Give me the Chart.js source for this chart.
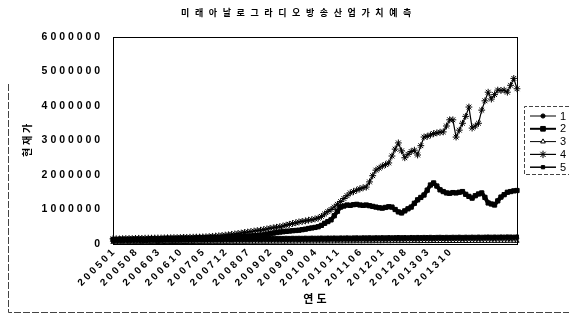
<!DOCTYPE html>
<html>
<head>
<meta charset="utf-8">
<script src="https://cdn.jsdelivr.net/npm/chart.js@4/dist/chart.umd.min.js"></script>
<style>
  html, body { margin: 0; padding: 0; background: #fff; }
</style>
</head>
<body>
<canvas id="chart" width="569" height="316"></canvas>
<script>
const chartTitle = '미래아날로그라디오방송산업가치예측';
const yTitle = '현 재 가';
const xTitle = '연 도';
const seriesNames = ['1', '2', '3', '4', '5'];

// months 200501 .. 201507, a label is shown every 7 months up to 201310
const firstYear = 2005;
const monthCount = 127;
const labelStep = 7;
const lastLabelIndex = 105;
const yMax = 6000000;
const yStep = 1000000;

const months = [];
for (let i = 0; i < monthCount; i++) {
  const y = firstYear + Math.floor(i / 12);
  const m = (i % 12) + 1;
  months.push(String(y) + (m < 10 ? '0' : '') + m);
}

const s1 = [
  80000, 82000, 79000, 83000, 85000, 84000, 86000, 88000, 87000, 89000, 90000, 88000,
  91000, 92000, 90000, 93000, 94000, 95000, 93000, 96000, 97000, 95000, 98000, 99000, 100000, 98000, 101000,
  102000, 100000, 103000, 104000, 102000, 105000, 106000, 104000, 107000, 108000,
  106000, 109000, 110000, 108000, 111000, 112000, 110000, 113000, 114000,
  112000, 115000, 116000, 114000, 117000, 118000,
  116000, 119000, 120000, 118000, 121000, 122000,
  120000, 123000, 124000, 122000, 125000, 126000,
  124000, 127000, 128000, 126000, 129000,
  130000, 128000, 131000, 132000, 130000,
  133000, 134000, 132000, 135000, 136000, 134000,
  137000, 138000, 136000, 139000, 140000,
  138000, 141000, 142000, 140000, 143000,
  144000, 142000, 145000, 146000, 144000,
  147000, 148000, 146000, 149000, 150000,
  148000, 151000, 152000, 150000, 153000,
  154000, 152000, 155000, 156000, 154000,
  157000, 158000, 156000, 159000, 160000,
  158000, 161000, 162000, 160000, 163000,
  164000, 162000, 165000, 166000, 164000, 167000, 168000
];

const s2 = [
  130000, 128000, 132000, 135000, 133000, 138000, 140000, 137000, 142000, 145000, 143000, 148000,
  150000, 152000, 150000, 155000, 158000, 156000, 160000, 162000, 165000, 163000, 168000, 170000, 172000, 175000, 178000,
  180000, 182000, 184000, 186000, 188000, 190000, 192000, 194000, 196000, 198000,
  200000, 205000, 210000, 215000, 220000, 226000, 232000, 238000, 244000,
  250000, 265000, 282000, 300000, 315000, 330000,
  345000, 355000, 365000, 375000, 385000, 392000,
  400000, 415000, 430000, 450000, 465000, 480000,
  500000, 540000, 600000, 650000,
  700000, 820000, 950000,
  1070000, 1100000,
  1130000, 1120000, 1140000, 1150000, 1130000, 1120000,
  1130000, 1110000, 1090000, 1070000, 1050000,
  1040000, 1060000, 1080000,
  1070000, 1000000, 930000,
  900000, 960000, 1020000,
  1070000, 1180000,
  1280000, 1350000,
  1420000, 1560000,
  1710000, 1770000, 1680000,
  1570000, 1520000,
  1480000, 1470000, 1490000,
  1480000, 1500000,
  1520000, 1440000, 1380000,
  1330000, 1400000, 1450000,
  1480000, 1350000,
  1190000, 1160000,
  1130000, 1250000,
  1360000, 1430000,
  1500000, 1520000, 1540000, 1550000
];

const s3 = [
  40000, 42000, 39000, 43000, 41000, 44000, 42000, 45000, 43000, 46000, 44000, 45000,
  47000, 45000, 48000, 46000, 49000, 47000, 48000, 50000, 48000, 51000, 49000, 50000, 52000, 50000, 53000,
  51000, 52000, 54000, 52000, 55000, 53000, 54000, 56000, 54000, 55000,
  57000, 55000, 56000, 58000, 56000, 57000, 59000, 57000, 58000,
  60000, 58000, 59000, 61000, 59000, 60000,
  62000, 60000, 61000, 63000, 61000, 62000,
  64000, 62000, 63000, 65000, 63000, 64000,
  66000, 64000, 65000, 67000, 65000,
  66000, 68000, 66000, 67000, 69000,
  67000, 68000, 70000, 68000, 69000, 71000,
  69000, 70000, 72000, 70000, 71000,
  73000, 71000, 72000, 74000, 72000,
  73000, 75000, 73000, 74000, 76000,
  74000, 75000, 77000, 75000, 76000,
  78000, 76000, 77000, 79000, 77000,
  78000, 80000, 78000, 79000, 81000,
  79000, 80000, 82000, 80000, 81000,
  83000, 81000, 82000, 84000, 82000,
  83000, 85000, 83000, 84000, 86000, 84000, 85000
];

const s4 = [
  150000, 152000, 148000, 155000, 158000, 160000, 157000, 162000, 165000, 163000, 168000, 170000,
  170000, 172000, 175000, 174000, 178000, 180000, 182000, 185000, 184000, 188000, 190000, 192000, 195000, 197000, 200000,
  200000, 205000, 210000, 215000, 222000, 230000, 238000, 248000, 258000, 268000,
  280000, 292000, 305000, 318000, 332000, 346000, 360000, 375000, 388000,
  400000, 418000, 436000, 455000, 470000, 485000,
  500000, 520000, 545000, 570000, 595000, 615000,
  640000, 655000, 670000, 690000, 705000, 725000,
  750000, 800000, 870000, 940000, 1000000,
  1070000, 1150000, 1230000, 1320000, 1400000,
  1480000, 1520000, 1560000, 1600000, 1630000,
  1650000, 1800000, 1980000,
  2140000, 2200000, 2260000, 2300000,
  2350000, 2550000, 2750000,
  2930000, 2700000, 2500000, 2600000, 2680000,
  2720000, 2580000, 2850000,
  3100000, 3120000, 3160000,
  3200000, 3220000, 3240000,
  3250000, 3420000,
  3600000, 3600000, 3100000, 3300000,
  3500000, 3700000,
  3970000, 3360000, 3420000,
  3500000, 3880000, 4150000,
  4400000, 4200000, 4330000,
  4460000, 4450000, 4460000, 4400000, 4600000, 4800000, 4500000
];

const s5 = [
  120000, 122000, 118000, 125000, 123000, 127000, 126000, 130000, 128000, 132000, 131000, 129000,
  133000, 135000, 134000, 138000, 136000, 140000, 139000, 142000, 141000, 145000, 143000, 147000, 146000, 150000, 148000,
  152000, 150000, 155000, 153000, 157000, 156000, 160000, 158000, 162000, 161000,
  163000, 165000, 164000, 168000, 166000, 170000, 169000, 172000, 171000,
  173000, 175000, 172000, 176000, 178000, 175000,
  180000, 178000, 182000, 179000, 183000, 181000,
  184000, 182000, 186000, 183000, 188000, 185000,
  187000, 190000, 186000, 191000, 189000,
  192000, 188000, 193000, 191000, 195000,
  190000, 194000, 196000, 192000, 197000, 195000,
  198000, 194000, 199000, 196000, 200000,
  197000, 202000, 198000, 201000, 205000,
  200000, 204000, 199000, 206000, 202000,
  207000, 203000, 208000, 205000, 210000,
  204000, 209000, 212000, 207000, 211000,
  208000, 213000, 210000, 215000, 209000,
  214000, 211000, 216000, 212000, 218000,
  213000, 217000, 220000, 215000, 219000,
  216000, 221000, 218000, 222000, 220000, 217000, 223000
];

const seriesData = [s1, s2, s3, s4, s5];
const pointStyles = ['circle', 'rect', 'triangle', 'star', 'rect'];
const pointSizes = [1.8, 3, 2.4, 3.4, 2];
const lineWidths = [1, 4, 1, 1.2, 1.5];
const pointFills = ['#000', '#000', '#fff', '#000', '#000'];

const fontFamily = "'Liberation Sans', 'Noto Sans CJK KR', sans-serif";
const spaced = s => String(s).split('').join(' ');

// plot frame, outer border, title and legend
const framePlugin = {
  id: 'framePlugin',
  afterDraw(chart) {
    const ctx = chart.ctx;
    const a = chart.chartArea;
    ctx.save();
    ctx.strokeStyle = '#000';
    ctx.lineWidth = 1;
    ctx.strokeRect(Math.round(a.left) + 0.5, Math.round(a.top) + 0.5,
      Math.round(a.right - a.left), Math.round(a.bottom - a.top));

    // scanned outer border
    ctx.strokeStyle = '#444';
    ctx.setLineDash([7, 2]);
    ctx.beginPath();
    ctx.moveTo(8.5, 84);
    ctx.lineTo(8.5, 312.5);
    ctx.lineTo(569, 312.5);
    ctx.stroke();

    // title
    ctx.setLineDash([]);
    ctx.fillStyle = '#000';
    ctx.textBaseline = 'middle';
    ctx.textAlign = 'center';
    ctx.font = "bold 9px 'Noto Sans CJK KR', sans-serif";
    if ('letterSpacing' in ctx) {
      ctx.letterSpacing = '5.6px';
      ctx.fillText(chartTitle, 299, 13);
      ctx.letterSpacing = '0px';
    } else {
      ctx.fillText(chartTitle.split('').join('  '), 296, 13);
    }

    // legend
    ctx.strokeStyle = '#444';
    ctx.setLineDash([4, 2]);
    ctx.beginPath();
    ctx.moveTo(569, 106.5);
    ctx.lineTo(524.5, 106.5);
    ctx.lineTo(524.5, 174.5);
    ctx.lineTo(569, 174.5);
    ctx.stroke();
    ctx.setLineDash([]);
    ctx.font = '11px ' + fontFamily;
    ctx.textAlign = 'left';
    chart.data.datasets.forEach((ds, i) => {
      const y = 116 + i * 12.8;
      ctx.strokeStyle = '#000';
      ctx.lineWidth = Math.min(ds.borderWidth, 2);
      ctx.beginPath();
      ctx.moveTo(530, y);
      ctx.lineTo(556, y);
      ctx.stroke();
      ctx.fillStyle = ds.pointBackgroundColor;
      ctx.lineWidth = 1;
      if (Chart.helpers && Chart.helpers.drawPoint) {
        Chart.helpers.drawPoint(ctx, {
          pointStyle: ds.pointStyle, radius: ds.pointRadius + 0.3,
          borderWidth: 1, rotation: 0
        }, 543, y);
      }
      ctx.fillStyle = '#000';
      ctx.fillText(ds.label, 560, y + 0.5);
    });
    ctx.restore();
  }
};

const datasets = seriesData.map((d, i) => ({
  label: seriesNames[i],
  data: d,
  borderColor: '#000',
  borderWidth: lineWidths[i],
  pointStyle: pointStyles[i],
  pointRadius: pointSizes[i],
  pointBorderWidth: 1,
  pointBorderColor: '#000',
  pointBackgroundColor: pointFills[i],
  tension: 0,
  fill: false
}));

new Chart(document.getElementById('chart'), {
  type: 'line',
  data: { labels: months, datasets: datasets },
  options: {
    responsive: false,
    animation: false,
    devicePixelRatio: 1,
    events: [],
    layout: { padding: { top: 37, right: 52, bottom: 0, left: 0 } },
    plugins: {
      legend: { display: false },
      title: { display: false },
      tooltip: { enabled: false }
    },
    scales: {
      x: {
        grid: { display: false, drawTicks: false },
        border: { display: false },
        ticks: {
          autoSkip: false,
          minRotation: 45,
          maxRotation: 45,
          padding: 3,
          color: '#000',
          font: { family: fontFamily, size: 10, weight: 'bold' },
          callback: function (value, index) {
            if (index % labelStep !== 0 || index > lastLabelIndex) return null;
            return spaced(this.getLabelForValue(value));
          }
        },
        title: {
          display: true,
          text: xTitle,
          color: '#000',
          font: { family: fontFamily, size: 11, weight: 'bold' },
          padding: { top: 0, bottom: 9 }
        },
        afterFit(scale) { scale.height = 72; }
      },
      y: {
        min: 0,
        max: yMax,
        grid: { display: false, drawTicks: false },
        border: { display: false },
        ticks: {
          stepSize: yStep,
          padding: 13,
          color: '#000',
          font: { family: fontFamily, size: 10.5, weight: 'bold' },
          callback: v => spaced(v)
        },
        title: {
          display: true,
          text: yTitle,
          color: '#000',
          font: { family: fontFamily, size: 10, weight: 'bold' },
          padding: { top: 22, bottom: 0 }
        },
        afterFit(scale) { scale.width = 113; }
      }
    }
  },
  plugins: [framePlugin]
});
</script>
</body>
</html>
